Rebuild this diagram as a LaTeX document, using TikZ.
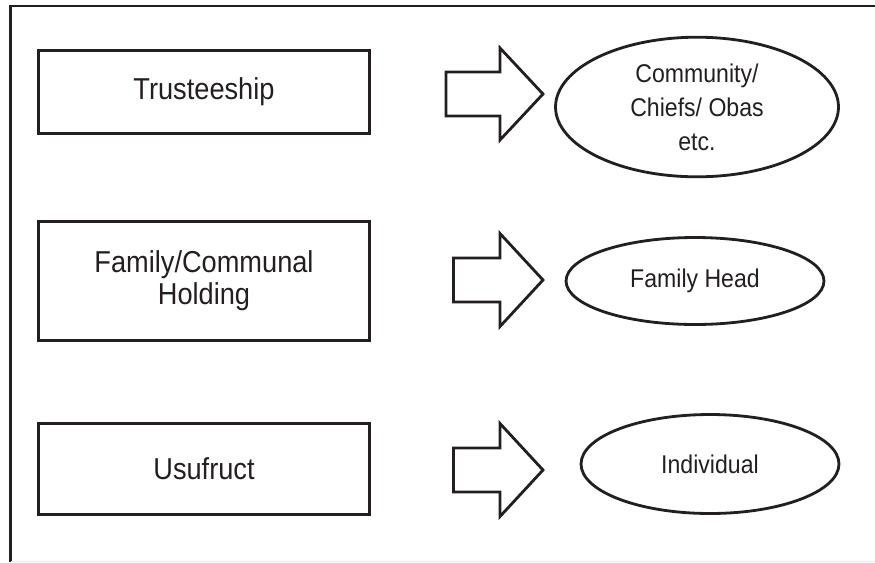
\documentclass[tikz,border=0pt]{standalone}
\usepackage{fontspec}
\setmainfont{Liberation Sans}[FakeStretch=0.9]
\usepackage{tikz}
\usetikzlibrary{shapes.geometric,positioning}
\definecolor{inkdark}{HTML}{231F20}

\begin{document}
\begin{tikzpicture}[
    x=0.02cm, y=-0.02cm,
    tenurebox/.style={draw=inkdark, line width=1.6pt, text=inkdark, minimum width=6.62cm,
        align=center, font=\fontsize{17.2}{18.4}\selectfont},
    holderoval/.style={draw=inkdark, ellipse, line width=1.6pt, text=inkdark,
        align=center, font=\fontsize{14.6}{19.4}\selectfont},
    blockarrow/.style={draw=inkdark, line width=1.6pt, fill=white},
]
\useasboundingbox (0,0) rectangle (875,562);

% Frame
\draw[inkdark, line width=1.6pt] (875,6) -- (10.5,6) -- (10.5,562);
\draw[gray!15, line width=0.6pt] (10.5,561.5) -- (875,561.5);

% ============================================================
% Tenure forms
% ============================================================
\node[tenurebox, minimum height=1.66cm] (trust) at (204,92) {Trusteeship};
\node[tenurebox, minimum height=2.38cm] (family) at (204,281) {Family/Communal\\Holding};
\node[tenurebox, minimum height=1.82cm] (usufruct) at (204,469) {Usufruct};

% ============================================================
% Holders
% ============================================================
\node[holderoval, minimum width=5.66cm, minimum height=2.78cm] (community) at (697,107) {Community/\\Chiefs/ Obas\\etc.};
\node[holderoval, minimum width=5.16cm, minimum height=1.74cm] (familyhead) at (695,281) {Family Head};
\node[holderoval, minimum width=5.16cm, minimum height=1.98cm] (individual) at (710,464) {Individual};

% ============================================================
% Block arrows
% ============================================================
\draw[blockarrow, shift={(543,94)}] (-97,-22) -- (-43,-22) -- (-43,-46) -- (0,0)
    -- (-43,46) -- (-43,22) -- (-97,22) -- cycle;
\draw[blockarrow, shift={(543,280)}] (-89.5,-22) -- (-43,-22) -- (-43,-46.5) -- (0,0)
    -- (-43,46.5) -- (-43,22) -- (-89.5,22) -- cycle;
\draw[blockarrow, shift={(543,470)}] (-89.5,-22) -- (-43,-22) -- (-43,-46.5) -- (0,0)
    -- (-43,46.5) -- (-43,22) -- (-89.5,22) -- cycle;

\end{tikzpicture}
\end{document}
